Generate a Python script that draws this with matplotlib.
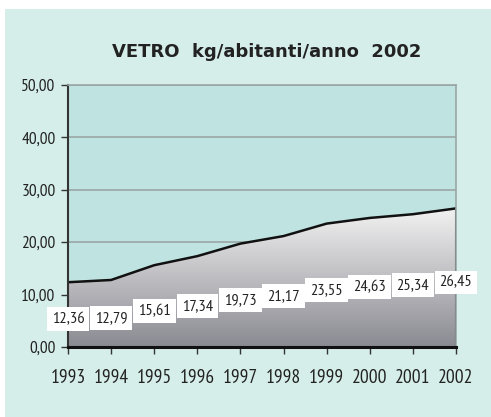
import numpy as np
import matplotlib
matplotlib.use("Agg")
import matplotlib.pyplot as plt
from matplotlib.patches import Rectangle, Polygon
from matplotlib.colors import LinearSegmentedColormap

years = [1993, 1994, 1995, 1996, 1997, 1998, 1999, 2000, 2001, 2002]
values = [12.36, 12.79, 15.61, 17.34, 19.73, 21.17, 23.55, 24.63, 25.34, 26.45]
value_labels = ["12,36", "12,79", "15,61", "17,34", "19,73", "21,17", "23,55", "24,63", "25,34", "26,45"]
yticks = [0, 10, 20, 30, 40, 50]
ytick_labels = ["0,00", "10,00", "20,00", "30,00", "40,00", "50,00"]
title = "VETRO  kg/abitanti/anno  2002"

narrow = ["PT Sans Narrow", "DejaVu Sans"]

fig = plt.figure(figsize=(4.91, 4.17), dpi=100, facecolor="white")
fig.patches.append(Rectangle((5 / 491, 0), 1 - 5 / 491, 1 - 9 / 417,
                             transform=fig.transFigure, facecolor="#d6eeea",
                             edgecolor="none", zorder=-10))

ax = fig.add_axes([68 / 491, 70 / 417, 388 / 491, 262 / 417])
ax.set_facecolor("#bfe3e0")
ax.set_xlim(years[0], years[-1])
ax.set_ylim(0, 50)

for y in yticks[1:]:
    ax.axhline(y, color="#9aa6a6", lw=1.2, zorder=1)

# gradient fill under the line
cmap = LinearSegmentedColormap.from_list("g", ["#8a8a92", "#f2f2f2"])
grad = np.linspace(0, 1, 256).reshape(-1, 1)
im = ax.imshow(grad, cmap=cmap, origin="lower", aspect="auto",
               extent=[years[0], years[-1], 0, max(values)], zorder=2)
poly = Polygon(list(zip(years, values)) + [(years[-1], 0), (years[0], 0)],
               closed=True, facecolor="none", edgecolor="none")
ax.add_patch(poly)
im.set_clip_path(poly)
ax.plot(years, values, color="#111111", lw=1.8, zorder=3, solid_joinstyle="round")
ax.plot([years[-1], years[-1]], [0, values[-1]], color="#111111", lw=2.2, zorder=3)

for x, v, lab in zip(years, values, value_labels):
    ax.text(x, v * 0.5 - 0.9, lab, ha="center", va="center", fontsize=11.8,
            family=narrow, color="#222222", zorder=7, clip_on=False,
            bbox=dict(boxstyle="square,pad=0.3", facecolor="white", edgecolor="none"))

ax.set_yticks(yticks)
ax.set_yticklabels(ytick_labels, family=narrow, fontsize=12.5, color="#222222")
ax.set_xticks(years)
ax.set_xticklabels([str(y) for y in years], family=narrow, fontsize=14, color="#222222")
ax.tick_params(axis="y", length=5, width=1, color="#333333", pad=4)
ax.tick_params(axis="x", length=5, width=1, color="#333333", pad=11)

for s in ["top", "right"]:
    ax.spines[s].set_color("#9aa6a6")
    ax.spines[s].set_linewidth(1.2)
ax.spines["left"].set_color("#333333")
ax.spines["left"].set_linewidth(1.5)
ax.spines["bottom"].set_color("#111111")
ax.spines["bottom"].set_linewidth(2.2)
for s in ax.spines.values():
    s.set_zorder(5)

fig.text(267 / 491, 1 - 52 / 417, title, ha="center", va="center",
         fontsize=13, fontweight="bold", color="#222222", family="DejaVu Sans")

fig.savefig("out.png", dpi=100, facecolor="white")
